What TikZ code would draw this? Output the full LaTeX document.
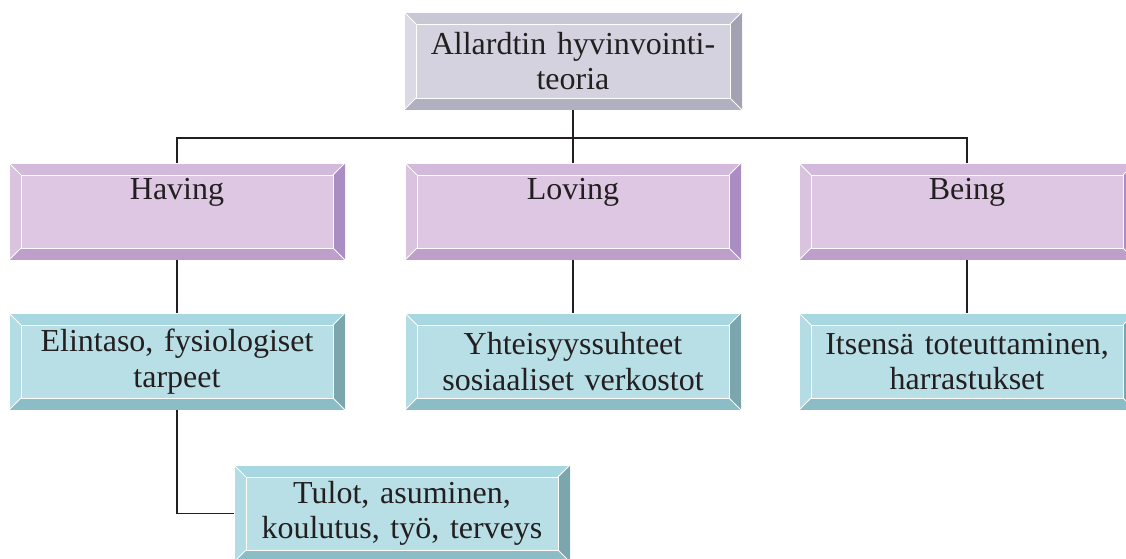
\documentclass[tikz,border=0pt]{standalone}
\usepackage{fontspec}
\setmainfont{Liberation Serif}
\usepackage{tikz}
\usetikzlibrary{positioning}

\definecolor{greyface}{HTML}{D3D2DE}
\definecolor{greytop}{HTML}{C8C7D5}
\definecolor{greyleft}{HTML}{DAD9E4}
\definecolor{greyright}{HTML}{A3A2B3}
\definecolor{greybottom}{HTML}{B1B0C1}
\definecolor{lilaface}{HTML}{DDC7E2}
\definecolor{lilatop}{HTML}{D3B9DB}
\definecolor{lilaleft}{HTML}{D9C3DF}
\definecolor{lilaright}{HTML}{AA8DC3}
\definecolor{lilabottom}{HTML}{BE9FCB}
\definecolor{tealface}{HTML}{B9DFE6}
\definecolor{tealtop}{HTML}{A7D7E0}
\definecolor{tealleft}{HTML}{B3DCE4}
\definecolor{tealright}{HTML}{7BA6AD}
\definecolor{tealbottom}{HTML}{8CBCC5}
\definecolor{ink}{HTML}{231F20}

\tikzset{
  bevelbox/.style={
    minimum width=336pt, minimum height=97pt, text width=320pt,
    align=center, inner sep=0pt, fill=#1face, text=ink,
    font=\fontsize{32}{35.5}\selectfont,
    path picture={
      \path (path picture bounding box.south west) coordinate (bl)
            (path picture bounding box.north east) coordinate (tr)
            ([shift={(12pt,12pt)}]bl) coordinate (ib)
            ([shift={(-12pt,-12pt)}]tr) coordinate (it);
      \fill[#1top] (bl|-tr) -- (tr) -- (it) -- (ib|-it) -- cycle;
      \fill[#1bottom] (bl) -- (tr|-bl) -- (it|-ib) -- (ib) -- cycle;
      \fill[#1left] (bl) -- (ib) -- (ib|-it) -- (bl|-tr) -- cycle;
      \fill[#1right] (tr|-bl) -- (it|-ib) -- (it) -- (tr) -- cycle;
      \draw[white, line width=1pt] (ib) rectangle (it);
      \draw[white, line width=0.8pt] (bl) -- (ib) (tr) -- (it)
            (bl|-tr) -- (ib|-it) (tr|-bl) -- (it|-ib);
      \draw[white, line width=0.8pt] (bl) rectangle (tr);
    }},
  conn/.style={draw=ink, line width=1.5pt}
}

\begin{document}
\begin{tikzpicture}[x=1pt,y=1pt]
  \useasboundingbox (0,0) rectangle (1126,-558);
  \clip (0,0) rectangle (1126,-558);

  \node[bevelbox=grey, minimum width=338pt, minimum height=98pt] (teoria) at (573,-61)
    {Allardtin hyvinvointi-\\teoria};

  \node[bevelbox=lila] (having) at (177,-211.5) {Having\\\strut};
  \node[bevelbox=lila] (loving) at (573,-211.5) {Loving\\\strut};
  \node[bevelbox=lila] (being) at (967,-211.5) {Being\\\strut};

  \node[bevelbox=teal] (elintaso) at (177,-361.5) {Elintaso, fysiologiset\\tarpeet};
  \node[bevelbox=teal] (yhteisyys) at (573,-361.5) {Yhteisyyssuhteet\\sosiaaliset verkostot};
  \node[bevelbox=teal] (itsensa) at (967,-361.5) {Itsens\"a toteuttaminen,\\harrastukset};

  \node[bevelbox=teal] (tulot) at (402,-513.5) {Tulot, asuminen,\\koulutus, ty\"o, terveys};

  % connectors
  \draw[conn] (teoria.south) -- (loving.north);
  \draw[conn] (having.north) -- ++(0,25) -| (being.north);
  \draw[conn] (having.south) -- (elintaso.north);
  \draw[conn] (loving.south) -- (yhteisyys.north);
  \draw[conn] (being.south) -- (itsensa.north);
  \draw[conn] (elintaso.south) |- (tulot.west);
\end{tikzpicture}
\end{document}
